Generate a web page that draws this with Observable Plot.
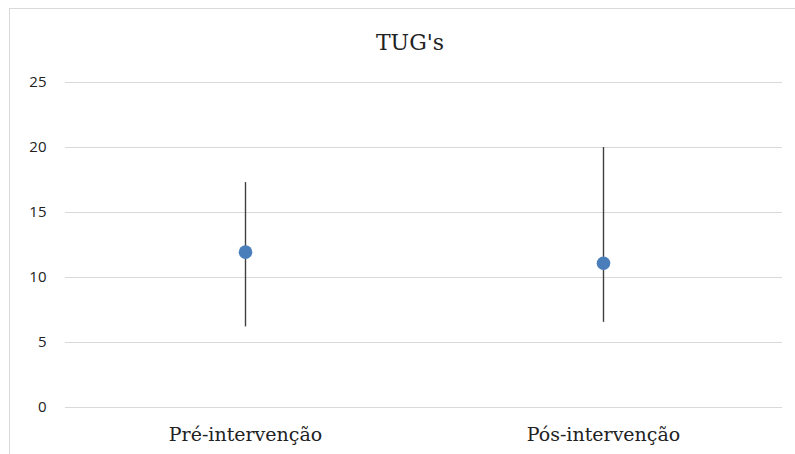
<!DOCTYPE html>
<html>
<head>
<meta charset="utf-8">
<script src="https://cdn.jsdelivr.net/npm/d3@7"></script>
<script src="https://cdn.jsdelivr.net/npm/@observablehq/plot@0.6"></script>
<style>
  html, body { margin: 0; padding: 0; background: #fff; }
  #wrap { position: relative; width: 795px; height: 454px; overflow: hidden; }
  #frame { position: absolute; left: 9px; top: 8px; width: 830px; height: 480px;
           border-left: 1px solid #d9d9d9; border-top: 1px solid #d9d9d9; }
  #title { position: relative; height: 60px; line-height: 24px;
           box-sizing: border-box; padding-top: 31px;
           text-align: center; font-family: "DejaVu Serif", serif; font-size: 22px;
           color: #222; padding-left: 25px; }
  #chart { position: relative; }
</style>
</head>
<body>
<div id="wrap">
  <div id="frame"></div>
  <div id="title">TUG's</div>
  <div id="chart"></div>
</div>
<script>
const categories = ["Pré-intervenção", "Pós-intervenção"];
const means = [11.95, 11.1];
const lows = [6.2, 6.55];
const highs = [17.3, 20.0];
const yTicks = [0, 5, 10, 15, 20, 25];

const data = categories.map((c, i) => ({cat: c, mean: means[i], lo: lows[i], hi: highs[i]}));

const plot = Plot.plot({
  width: 795,
  height: 394,
  marginTop: 22,
  marginBottom: 47,
  marginLeft: 65,
  marginRight: 13,
  style: {background: "transparent", overflow: "visible"},
  x: {type: "band", domain: categories, padding: 0, label: null},
  y: {domain: [0, 25], label: null},
  marks: [
    Plot.gridY(yTicks, {stroke: "#d9d9d9", strokeOpacity: 1, strokeWidth: 1}),
    Plot.axisY(yTicks, {tickSize: 0, tickPadding: 19, fontSize: 15, fontFamily: "Open Sans", fill: "#222", label: null}),
    Plot.axisX({tickSize: 0, tickPadding: 20, fontSize: 19, fontFamily: "DejaVu Serif", fill: "#222", label: null}),
    Plot.ruleX(data, {x: "cat", y1: "lo", y2: "hi", stroke: "#404040", strokeWidth: 1.4}),
    Plot.dot(data, {x: "cat", y: "mean", r: 6.8, fill: "#4a7ebb", stroke: "none"})
  ]
});
document.getElementById("chart").appendChild(plot);
</script>
</body>
</html>
